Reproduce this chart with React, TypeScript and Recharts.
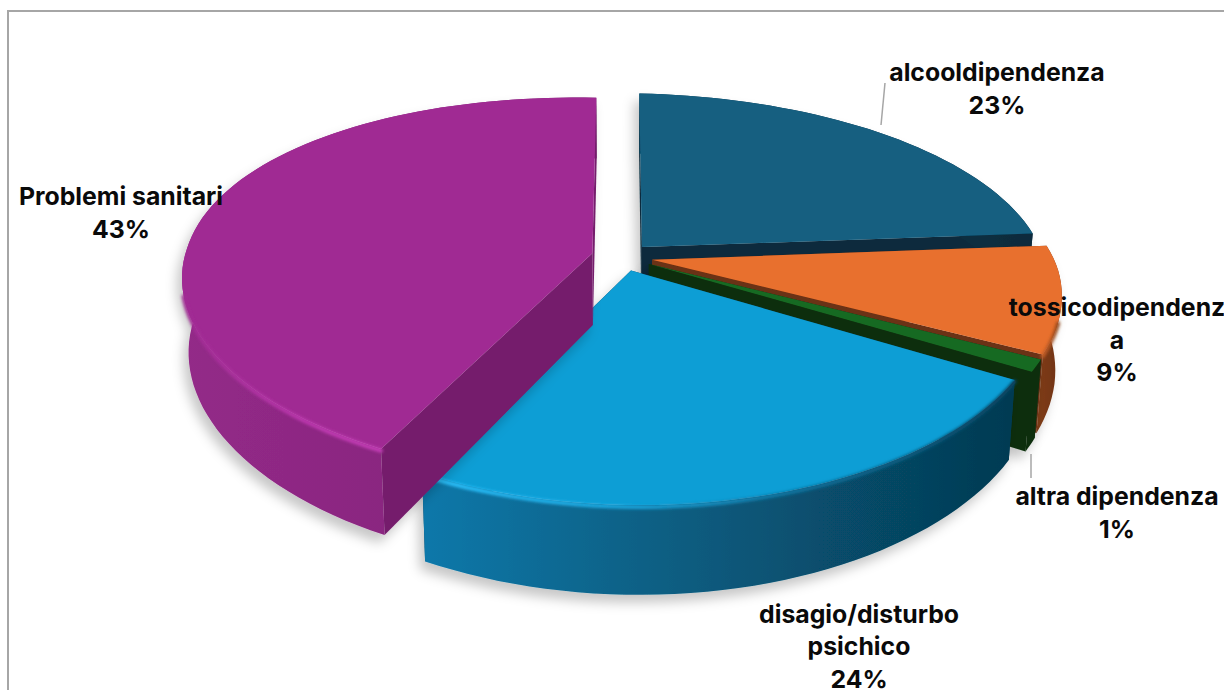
import React from "react";
import { PieChart, Pie } from "recharts";

// Share of cases per problem area, clockwise from twelve o'clock
const categories = ["alcooldipendenza", "tossicodipendenza", "altra dipendenza", "disagio/disturbo psichico", "Problemi sanitari"];
const shares = [23, 9, 1, 24, 43];
const labelLines = [["alcooldipendenza"], ["tossicodipendenz", "a"], ["altra dipendenza"], ["disagio/disturbo", "psichico"], ["Problemi sanitari"]];

// Slice appearance
const topColors = ["#145E80", "#E8702F", "#196B24", "#0F9ED5", "#A02B93"];
const cutColors = ["#0A2B3C", "#6B3013", "#0C2F0C", "#073F58", "#741E6C"];
const wallStops = [
  ["#0E4259", "#0A2B3C"],
  ["#7C3A16", "#6E3213"],
  ["#0C2F0C", "#0C2F0C"],
  ["#0B78AA", "#0A6389", "#074E6D", "#053A52"],
  ["#932A88", "#8A2680", "#731E6B"],
];
const rimStops = [null, ["#C86028", "#8A4318"], null, ["#2CC4FF", "#1CA8E0", "#0D6E98", "#074663"], ["#A02B93", "#C03AB2", "#CC40BE", "#CC40BE"]];

// Hand-placed callouts: centre x, first baseline, optional leader line
const callouts = [
  { x: 997, y: 81, leader: [881, 125, 885, 83] },
  { x: 1117, y: 316 },
  { x: 1117, y: 505, leader: [1031, 454, 1031, 478] },
  { x: 859, y: 622.5 },
  { x: 121, y: 205 },
];

const rows = categories.map((name, i) => ({ name, value: shares[i], index: i, fill: topColors[i] }));

// Oblique projection of the pie plane, with a little foreshortening towards the back
const TILT = 0.458;
const PERSPECTIVE_X = 0.15;
const PERSPECTIVE_Y = 0.185;
const SHEAR = 0.022;
const FRONT_LEAN = 0.04;
const THICKNESS = 72;
const EXPLODE = 0.075;
const RAD = Math.PI / 180;

function project(cx: number, cy: number, R: number, u: number, v: number, z = 0) {
  const wx = 1 - PERSPECTIVE_X * v;
  const wy = 1 - PERSPECTIVE_Y * v;
  const y0 = (R * TILT * v) / wy;
  const x0 = (R * u) / wx - FRONT_LEAN * Math.max(0, y0);
  return [cx + x0 * (1 - z * 0.015), cy + y0 + SHEAR * x0 + (z * THICKNESS) / wy];
}

const toPath = (pts: number[][], close = true) =>
  pts.map((p, i) => `${i ? "L" : "M"}${p[0].toFixed(1)} ${p[1].toFixed(1)}`).join("") + (close ? "Z" : "");

function stopsOf(colors: string[]) {
  return colors.map((c, i) => <stop key={i} offset={colors.length > 1 ? i / (colors.length - 1) : 0} stopColor={c} />);
}

function Slice3D(props: any) {
  const { cx, cy, outerRadius: R, startAngle, endAngle, payload } = props;
  const i: number = payload.index;
  const mid = ((startAngle + endAngle) / 2) * RAD;
  const ou = EXPLODE * Math.cos(mid);
  const ov = -EXPLODE * Math.sin(mid);
  const at = (deg: number, z: number) =>
    project(cx, cy, R, ou + Math.cos(deg * RAD), ov - Math.sin(deg * RAD), z);
  const apex = (z: number) => project(cx, cy, R, ou, ov, z);

  const steps = Math.max(4, Math.ceil(Math.abs(endAngle - startAngle) / 2));
  const angles = Array.from({ length: steps + 1 }, (_, k) => startAngle + ((endAngle - startAngle) * k) / steps);
  const rimTop = angles.map((a) => at(a, 0));
  const rimBottom = angles.map((a) => at(a, 1));
  const xs = rimTop.map((p) => p[0]);
  const minX = Math.min(...xs);
  const maxX = Math.max(...xs);

  // The glossy bevel only shows along the part of the rim facing the viewer
  const front = angles.filter((a) => Math.sin(a * RAD) < -0.25);
  const rim = rimStops[i];
  const wallId = `wall-${i}`;
  const rimId = `rim-${i}`;
  const shadowId = `shadow-${i}`;
  const softId = `soft-${i}`;

  return (
    <g>
      <defs>
        <linearGradient id={wallId} gradientUnits="userSpaceOnUse" x1={minX} x2={maxX} y1={0} y2={0}>
          {stopsOf(wallStops[i])}
        </linearGradient>
        {rim && (
          <linearGradient id={rimId} gradientUnits="userSpaceOnUse" x1={minX} x2={maxX} y1={0} y2={0}>
            {stopsOf(rim)}
          </linearGradient>
        )}
        <filter id={shadowId} filterUnits="userSpaceOnUse" x={0} y={0} width={1224} height={690}>
          <feDropShadow dx={-5} dy={8} stdDeviation={6} floodColor="#000" floodOpacity={0.22} />
        </filter>
        <filter id={softId} filterUnits="userSpaceOnUse" x={0} y={0} width={1224} height={690}>
          <feGaussianBlur stdDeviation={1.4} />
        </filter>
      </defs>
      <g filter={`url(#${shadowId})`}>
        <path d={toPath([apex(0), at(startAngle, 0), at(startAngle, 1), apex(1)])} fill={cutColors[i]} />
        <path d={toPath([apex(0), at(endAngle, 0), at(endAngle, 1), apex(1)])} fill={cutColors[i]} />
        <path d={toPath([...rimTop, ...[...rimBottom].reverse()])} fill={`url(#${wallId})`} />
        <path d={toPath([apex(0), ...rimTop])} fill={payload.fill} />
      </g>
      {rim && front.length > 1 && (
        <path
          d={toPath(front.map((a) => at(a, 0.02)), false)}
          fill="none"
          stroke={`url(#${rimId})`}
          strokeWidth={4}
          strokeLinecap="round"
          filter={`url(#${softId})`}
        />
      )}
    </g>
  );
}

function Callout(props: any) {
  const i: number = props.index;
  const spot = callouts[i];
  const lines = [...labelLines[i], `${shares[i]}%`];
  return (
    <g>
      {spot.leader && (
        <line x1={spot.leader[0]} y1={spot.leader[1]} x2={spot.leader[2]} y2={spot.leader[3]} stroke="#A6A6A6" strokeWidth={1.5} />
      )}
      <text textAnchor="middle" fontFamily="Inter, sans-serif" fontWeight={700} fontSize={24.8} fill="#0A0A0A">
        {lines.map((line, k) => (
          <tspan key={k} x={spot.x} y={spot.y + k * 32.5}>
            {line}
          </tspan>
        ))}
      </text>
    </g>
  );
}

export default function App() {
  return (
    <div style={{ position: "absolute", left: 0, top: 0, width: 1224, height: 690, overflow: "hidden", background: "#fff" }}>
      <div
        style={{
          position: "absolute",
          left: 7,
          top: 10,
          width: 1217,
          height: 680,
          boxSizing: "border-box",
          borderTop: "2px solid #A6A6A6",
          borderLeft: "2px solid #A6A6A6",
        }}
      />
      <div style={{ position: "absolute", left: 0, top: 0 }}>
        <PieChart width={1224} height={690} margin={{ top: 0, right: 0, bottom: 0, left: 0 }}>
          <Pie
            data={rows}
            dataKey="value"
            nameKey="name"
            cx={622}
            cy={257}
            innerRadius={0}
            outerRadius={405}
            startAngle={90}
            endAngle={-270}
            paddingAngle={0}
            stroke="none"
            isAnimationActive={false}
            shape={Slice3D}
            label={Callout}
            labelLine={false}
          />
        </PieChart>
      </div>
    </div>
  );
}
